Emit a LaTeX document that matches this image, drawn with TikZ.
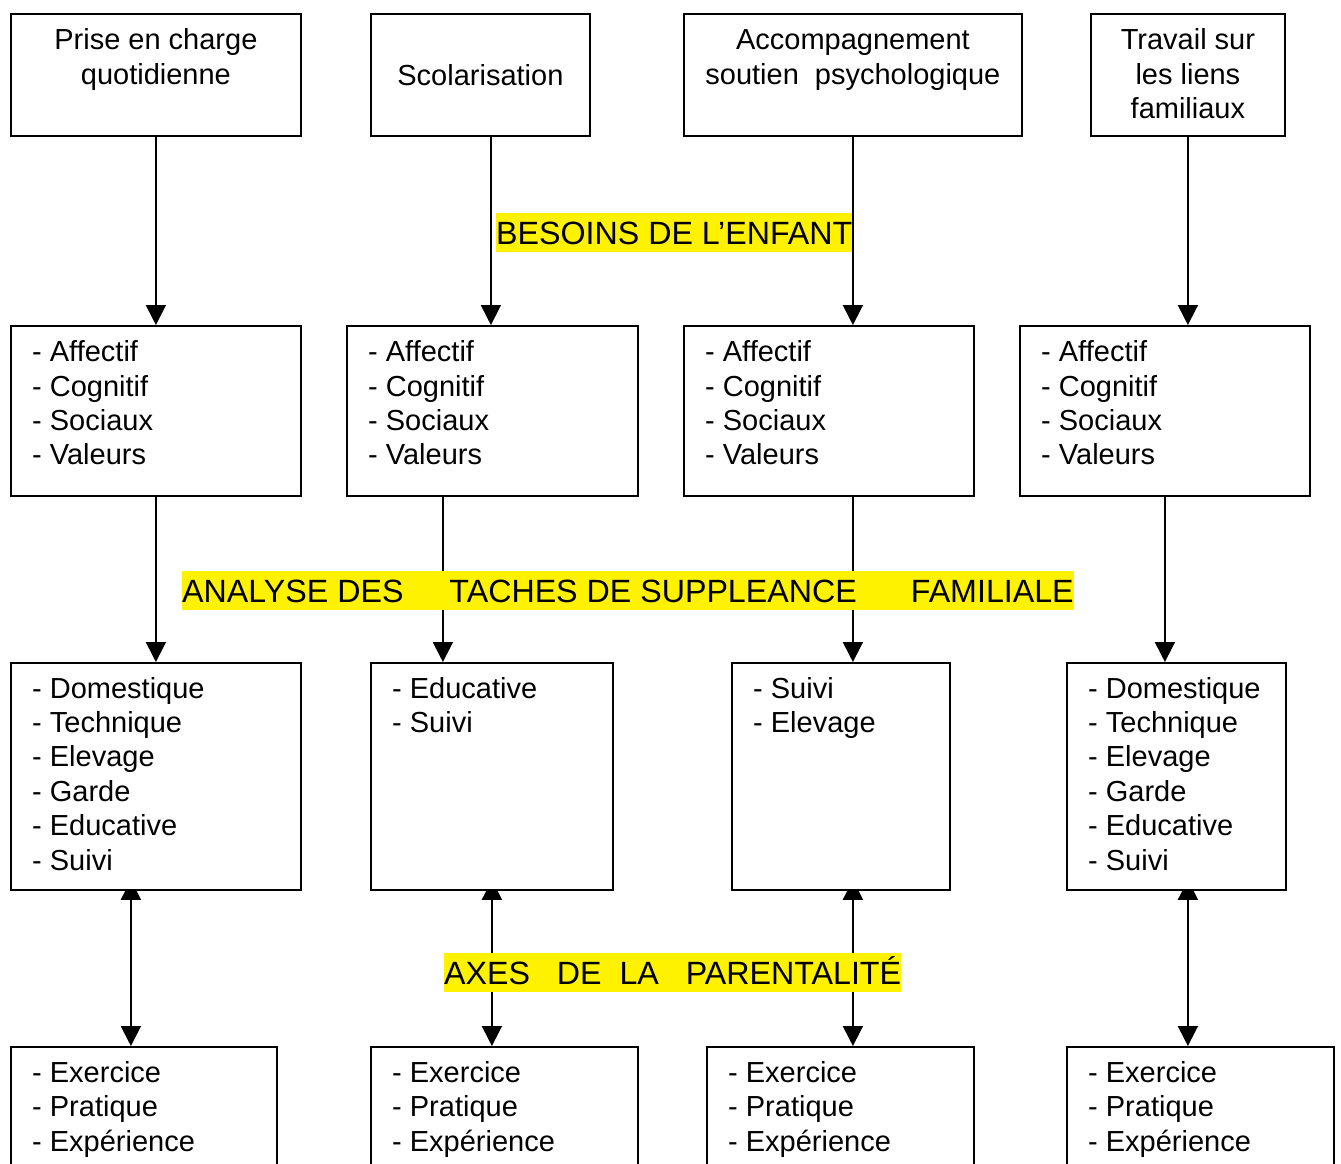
\documentclass[tikz,border=0pt]{standalone}
\usepackage{fontspec}
\setmainfont{Liberation Sans}
\usetikzlibrary{arrows.meta,backgrounds,calc}
\begin{document}
\begin{tikzpicture}[x=1pt,y=-1pt,
  box/.style={draw,fill=white,line width=1.8pt,inner sep=0pt,anchor=north west},
  txt/.style={inner sep=0pt,font=\fontsize{29}{34.4}\selectfont},
  lst/.style={txt,align=left,anchor=north west},
  ctr/.style={txt,align=center,anchor=north},
  lbl/.style={fill=yellow,inner sep=0pt,text height=31pt,text depth=8pt,anchor=base west,font=\fontsize{32.2}{38}\selectfont},
  arr/.style={line width=1.8pt,-{Triangle[width=20pt,length=20pt]}},
  darr/.style={line width=1.8pt,{Triangle[width=20pt,length=20pt]}-{Triangle[width=20pt,length=20pt]}}]
\useasboundingbox (0,0) rectangle (1341,1163);
\clip (0,0) rectangle (1341,1163);
% boxes
\node[box,minimum width=290pt,minimum height=122pt] (A1) at (10,13) {};
\node[box,minimum width=219pt,minimum height=122pt] (B1) at (370,13) {};
\node[box,minimum width=338pt,minimum height=122pt] (C1) at (683,13) {};
\node[box,minimum width=194pt,minimum height=122pt] (D1) at (1090,13) {};
\node[box,minimum width=290pt,minimum height=170pt] (A2) at (10,325) {};
\node[box,minimum width=291pt,minimum height=170pt] (B2) at (346,325) {};
\node[box,minimum width=290pt,minimum height=170pt] (C2) at (683,325) {};
\node[box,minimum width=290pt,minimum height=170pt] (D2) at (1019,325) {};
\node[box,minimum width=290pt,minimum height=227pt] (A3) at (10,662) {};
\node[box,minimum width=242pt,minimum height=227pt] (B3) at (370,662) {};
\node[box,minimum width=218pt,minimum height=227pt] (C3) at (731,662) {};
\node[box,minimum width=219pt,minimum height=227pt] (D3) at (1066,662) {};
\node[box,minimum width=266pt,minimum height=160pt] (A4) at (10,1046) {};
\node[box,minimum width=267pt,minimum height=160pt] (B4) at (370,1046) {};
\node[box,minimum width=267pt,minimum height=160pt] (C4) at (706,1046) {};
\node[box,minimum width=267pt,minimum height=160pt] (D4) at (1066,1046) {};
% texts row 1
\node[ctr] (tA1) at ($(A1.north)+(0,12.4)$) {\strut Prise en charge\\quotidienne};
\node[txt,anchor=base] (tB1) at ($(B1.north)+(0,72)$) {Scolarisation};
\node[ctr] (tC1) at ($(C1.north)+(0,12.4)$) {\strut Accompagnement\\soutien\ \ psychologique};
\node[ctr] (tD1) at ($(D1.north)+(0,12.4)$) {\strut Travail sur\\les liens\\familiaux};
% texts row 2
\node[lst] (tA2) at ($(A2.north west)+(22,12.4)$) {\strut- Affectif\\- Cognitif\\- Sociaux\\- Valeurs};
\node[lst] (tB2) at ($(B2.north west)+(22,12.4)$) {\strut- Affectif\\- Cognitif\\- Sociaux\\- Valeurs};
\node[lst] (tC2) at ($(C2.north west)+(22,12.4)$) {\strut- Affectif\\- Cognitif\\- Sociaux\\- Valeurs};
\node[lst] (tD2) at ($(D2.north west)+(22,12.4)$) {\strut- Affectif\\- Cognitif\\- Sociaux\\- Valeurs};
% texts row 3
\node[lst] (tA3) at ($(A3.north west)+(22,11.9)$) {\strut- Domestique\\- Technique\\- Elevage\\- Garde\\- Educative\\- Suivi};
\node[lst] (tB3) at ($(B3.north west)+(22,11.9)$) {\strut- Educative\\- Suivi};
\node[lst] (tC3) at ($(C3.north west)+(22,11.9)$) {\strut- Suivi\\- Elevage};
\node[lst] (tD3) at ($(D3.north west)+(22,11.9)$) {\strut- Domestique\\- Technique\\- Elevage\\- Garde\\- Educative\\- Suivi};
% texts row 4
\node[lst] (tA4) at ($(A4.north west)+(22,11.9)$) {\strut- Exercice\\- Pratique\\- Expérience};
\node[lst] (tB4) at ($(B4.north west)+(22,11.9)$) {\strut- Exercice\\- Pratique\\- Expérience};
\node[lst] (tC4) at ($(C4.north west)+(22,11.9)$) {\strut- Exercice\\- Pratique\\- Expérience};
\node[lst] (tD4) at ($(D4.north west)+(22,11.9)$) {\strut- Exercice\\- Pratique\\- Expérience};
% connectors (behind boxes)
\begin{pgfonlayer}{background}
\draw[arr] (A1.south) -- (A1.south |- A2.north);
\draw[arr] ($(B1.south)+(10.5,0)$) -- ($(B1.south |- B2.north)+(10.5,0)$);
\draw[arr] (C1.south) -- (C1.south |- C2.north);
\draw[arr] (D1.south) -- (D1.south |- D2.north);
\draw[arr] (A2.south) -- (A2.south |- A3.north);
\draw[arr] ($(B2.south)+(-49.5,0)$) -- ($(B2.south |- B3.north)+(-49.5,0)$);
\draw[arr] (C2.south -| C1.south) -- (C3.north -| C1.south);
\draw[arr] (D2.south) -- (D2.south |- D3.north);
\draw[darr] ($(A3.south -| A4.north)+(-13,-11)$) -- ($(A4.north)+(-13,0)$);
\draw[darr] ($(B3.south)+(0,-11)$) -- (B3.south |- B4.north);
\draw[darr] ($(C3.south -| C1.south)+(0,-11)$) -- (C4.north -| C1.south);
\draw[darr] ($(D3.south -| D1.south)+(0,-11)$) -- (D4.north -| D1.south);
\end{pgfonlayer}
% labels
\node[lbl] (besoins) at (496,244) {BESOINS DE L’ENFANT};
\node[lbl] (analyse) at (182,602) {ANALYSE DES\hspace{46pt}TACHES DE SUPPLEANCE\hspace{54pt}FAMILIALE};
\node[lbl] (axes) at (444,984) {AXES\ \ \ DE\ \ LA\ \ \ PARENTALITÉ};
\end{tikzpicture}
\end{document}
